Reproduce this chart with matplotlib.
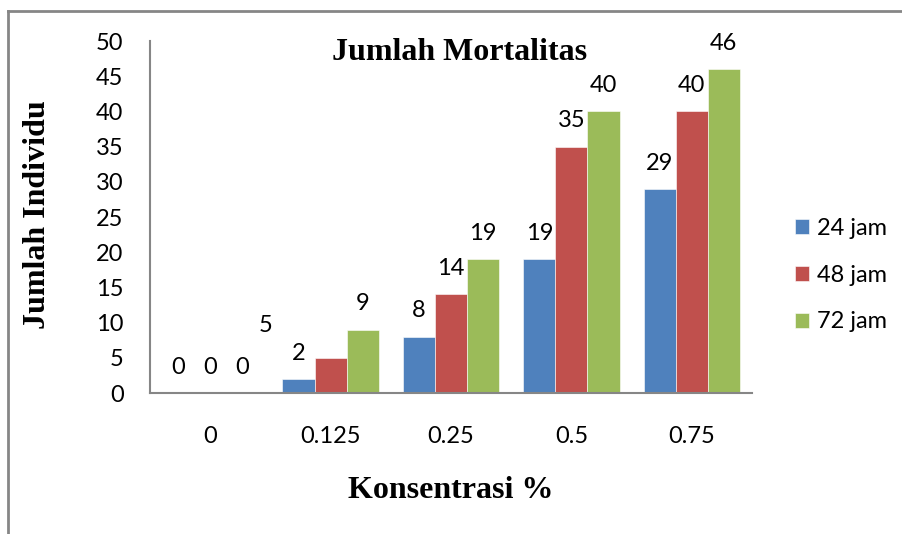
import matplotlib
matplotlib.use('Agg')
import matplotlib.pyplot as plt
import numpy as np
from matplotlib.lines import Line2D

# ______________________________ Data ______________________________

konsentrasi = ['0', '0.125', '0.25', '0.5', '0.75']
jam_24 = [0, 2, 8, 19, 29]
jam_48 = [0, 5, 14, 35, 40]
jam_72 = [0, 9, 19, 40, 46]
series_labels = ['24 jam', '48 jam', '72 jam']

# ______________________________ Style ______________________________

colores = ['#4F81BD', '#C0504D', '#9BBB59']
gris = '#868686'
font_num = 'Lato'
font_tit = 'Liberation Serif'
fs_num = 17
fs_tit = 23

# la etiqueta "5" (48 jam, 0.125) fue movida a mano en el original
desplazados = {(1, 1): (-47, 15.5)}

fig = plt.figure(figsize=(9.03, 5.34), dpi=100)
ax = fig.add_axes([150/903, 141/534, 602/903, 352/534])

x = np.arange(len(konsentrasi))
ancho = 0.2667
datos = [jam_24, jam_48, jam_72]

for i, (vals, col, lab) in enumerate(zip(datos, colores, series_labels)):
    pos = x + (i - 1) * ancho
    ax.bar(pos, vals, ancho, color=col, label=lab, edgecolor='white', linewidth=0.4)
    for j, (p, v) in enumerate(zip(pos, vals)):
        off = desplazados.get((i, j), (0, 11))
        ax.annotate(str(v), (p, v), xytext=off, textcoords='offset points',
                    ha='center', va='bottom', fontsize=fs_num, family=font_num)

ax.set_xlim(-0.5, len(konsentrasi) - 0.5)
ax.set_ylim(0, 50)
ax.set_yticks(range(0, 51, 5))
ax.set_xticks(x)
ax.set_xticklabels(konsentrasi)
ax.tick_params(axis='both', length=0, labelsize=fs_num)
ax.tick_params(axis='y', pad=19)
ax.tick_params(axis='x', pad=24)
for t in ax.get_xticklabels() + ax.get_yticklabels():
    t.set_family(font_num)

for s in ['top', 'right']:
    ax.spines[s].set_visible(False)
for s in ['left', 'bottom']:
    ax.spines[s].set_color(gris)
    ax.spines[s].set_linewidth(1.5)

fig.text(460/903, 1 - 60/534, 'Jumlah Mortalitas', ha='center', va='baseline',
         fontsize=fs_tit, fontweight='bold', family=font_tit)
fig.text(38/903, 1 - 215/534, 'Jumlah Individu', rotation=90, ha='center', va='center',
         fontsize=fs_tit, fontweight='bold', family=font_tit)
fig.text(451/903, 1 - 490/534, 'Konsentrasi %', ha='center', va='center',
         fontsize=fs_tit, fontweight='bold', family=font_tit)

leg = fig.legend(loc='center left', bbox_to_anchor=(795/903, 1 - 275/534), frameon=False,
                 prop={'family': font_num, 'size': fs_num}, handlelength=0.6, handleheight=0.6,
                 handletextpad=0.35, labelspacing=1.1, borderpad=0, borderaxespad=0)

# marco del area del grafico
fig.add_artist(Line2D([8/903, 8/903], [0, 1 - 11/534], color=gris, lw=2))
fig.add_artist(Line2D([8/903, 1], [1 - 11/534, 1 - 11/534], color=gris, lw=2))

fig.savefig('out.png', dpi=100)
